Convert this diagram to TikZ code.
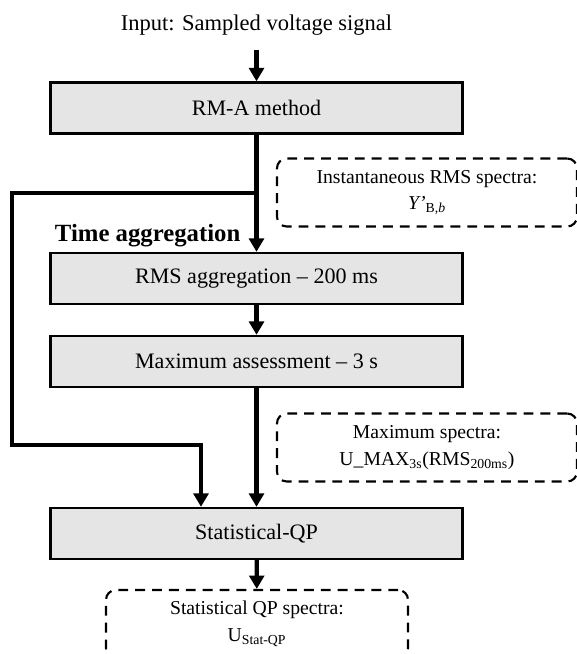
\documentclass[tikz,border=0pt]{standalone}
\usepackage{fontspec}
\setmainfont{Liberation Serif}
\usetikzlibrary{arrows.meta}

\tikzset{
	procbox/.style={draw, line width=1.8pt, fill=gray!20, minimum width=10.3cm, minimum height=1.27cm, font=\fontsize{15.7}{18}\selectfont},
	specbox/.style={draw, dash pattern=on 7pt off 5pt, line width=1.5pt, rounded corners=7pt, minimum width=7.5cm, minimum height=1.7cm, align=center, font=\fontsize{14}{19}\selectfont},
	flow/.style={line width=3pt, -{Triangle[width=10.5pt,length=9.5pt]}},
}

\begin{document}
\begin{tikzpicture}[x=0.025cm, y=-0.025cm]
		\useasboundingbox (0,0) rectangle (577,654);
		
		% Input and main processing chain
		\node[anchor=base, font=\fontsize{16}{19}\selectfont] (input) at (256.5,30) {Input: Sampled voltage signal};
		\node[procbox] (rma) at (256.5,108) {RM-A method};
		\node[procbox] (rmsagg) at (256.5,278.5) {RMS aggregation -- 200 ms};
		\node[procbox] (maxass) at (256.5,361.5) {Maximum assessment -- 3 s};
		\node[procbox] (statqp) at (256.5,533.5) {Statistical-QP};
		\node[anchor=base west, font=\fontsize{17.6}{20}\bfseries] (timeagg) at (50,241) {Time aggregation};
		
		% Intermediate spectra
		\node[specbox] (instspec) at (427,192.5) {Instantaneous RMS spectra:\\ \textit{Y’}\textsubscript{B,\textit{b}}};
		\node[specbox] (maxspec) at (427,447.5) {Maximum spectra:\\ U\_MAX\textsubscript{3s}(RMS\textsubscript{200ms})};
		\node[specbox, minimum width=7.55cm] (qpspec) at (257,624) {Statistical QP spectra:\\ U\textsubscript{Stat-QP}};
		
		\draw[flow, shorten <=7pt] (input) -- (rma);
		\draw[flow] (rma) -- (rmsagg);
		\draw[flow] (rmsagg) -- (maxass);
		\draw[flow] (maxass) -- (statqp);
		\draw[flow] (statqp) -- (qpspec);
		
		% Bypass of the time aggregation
		\coordinate (tap) at (256.5,193);
		\coordinate (fbtl) at (12,193);
		\coordinate (fbbl) at (12,445);
		\coordinate (fbbr) at (201,445);
		\draw[flow] (tap) -- (fbtl) -- (fbbl) -- (fbbr) -- (fbbr |- statqp.north);
		
	\end{tikzpicture}
\end{document}
